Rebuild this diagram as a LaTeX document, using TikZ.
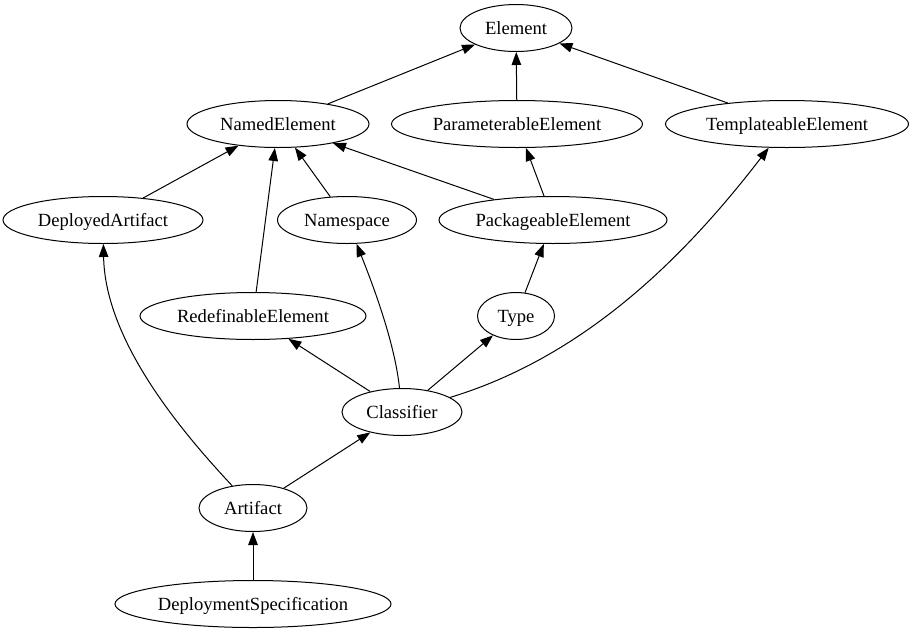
\documentclass[tikz,border=0pt]{standalone}
\usepackage{fontspec}
\setmainfont{Liberation Serif}
\usetikzlibrary{shapes.geometric,arrows.meta}
\begin{document}
\begin{tikzpicture}[x=1pt,y=1pt,
  cls/.style={ellipse,draw,line width=1pt,inner sep=0pt,minimum height=47pt,
    text height=15pt,text depth=2pt,
    font=\fontsize{18.6pt}{22pt}\selectfont},
  gen/.style={line width=1pt,-{Triangle[length=13pt,width=9.5pt]}}]
\useasboundingbox (0,0) rectangle (913,-635);
\node[cls,minimum width=112pt] (el) at (516,-28) {Element};
\node[cls,minimum width=182pt] (ne) at (278,-124) {NamedElement};
\node[cls,minimum width=251pt] (pe) at (517,-124) {ParameterableElement};
\node[cls,minimum width=243pt] (te) at (787,-124) {TemplateableElement};
\node[cls,minimum width=200pt] (da) at (103,-220) {DeployedArtifact};
\node[cls,minimum width=139pt] (ns) at (347,-220) {Namespace};
\node[cls,minimum width=228pt] (pk) at (553,-220) {PackageableElement};
\node[cls,minimum width=226pt] (re) at (253,-316) {RedefinableElement};
\node[cls,minimum width=77pt] (ty) at (516,-316) {Type};
\node[cls,minimum width=120pt] (cl) at (402,-412) {Classifier};
\node[cls,minimum width=108pt] (ar) at (253,-508) {Artifact};
\node[cls,minimum width=276pt] (ds) at (253,-604) {DeploymentSpecification};
\draw[gen] (ne) -- (el);
\draw[gen] (pe) -- (el);
\draw[gen] (te) -- (el);
\draw[gen] (da) -- (ne);
\draw[gen] (ns) -- (ne);
\draw[gen] (pk) -- (ne);
\draw[gen] (re) -- (ne);
\draw[gen] (pk) -- (pe);
\draw[gen] (ty) -- (pk);
\draw[gen] (cl) -- (re);
\draw[gen] (cl) -- (ty);
\draw[gen] (cl) .. controls (395,-345) and (375,-290) .. (ns);
\draw[gen] (cl) .. controls (590,-355) and (690,-250) .. (te);
\draw[gen] (ar) .. controls (180,-430) and (105,-340) .. (da);
\draw[gen] (ar) -- (cl);
\draw[gen] (ds) -- (ar);
\end{tikzpicture}
\end{document}
